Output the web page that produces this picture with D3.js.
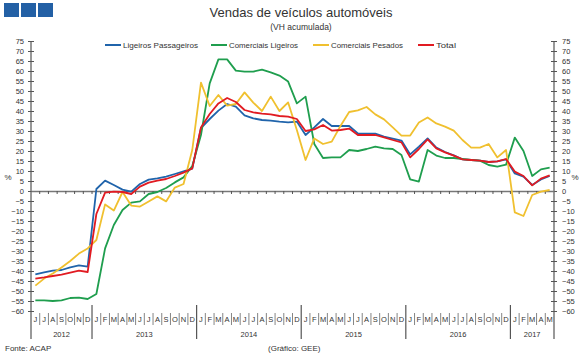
<!DOCTYPE html>
<html><head><meta charset="utf-8">
<script src="https://cdn.jsdelivr.net/npm/d3@7"></script>
<style>body{margin:0;background:#fff}svg{display:block;font-family:"Liberation Sans",Arial,sans-serif}</style>
</head><body><svg id="c" width="584" height="358"></svg>
<script>
const monthLetters = ["J","J","A","S","O","N","D",
 "J","F","M","A","M","J","J","A","S","O","N","D",
 "J","F","M","A","M","J","J","A","S","O","N","D",
 "J","F","M","A","M","J","J","A","S","O","N","D",
 "J","F","M","A","M","J","J","A","S","O","N","D",
 "J","F","M","A","M"];
const years = [{label:"2012",start:0,end:7},{label:"2013",start:7,end:19},{label:"2014",start:19,end:31},{label:"2015",start:31,end:43},{label:"2016",start:43,end:55},{label:"2017",start:55,end:60}];
const yTicks = d3.range(-60, 76, 5);

const ligeirosPassageiros = [-41.7,-40.7,-39.8,-39.5,-38.2,-37.2,-37.8,1.0,5.2,3.0,0.7,-0.3,3.5,5.7,6.3,7.2,8.5,9.8,11.2,
 31.5,36,40.2,43.5,42.2,37.8,36.3,35.5,35.2,34.7,34.3,34.7,28,31.8,36,32.5,32.5,32.5,28.8,28.7,28.7,
 27.2,26.2,25.2,18.3,22.2,26.3,21.7,19.5,17.8,15.8,15.5,15.2,14.5,14.8,15.8,8.8,7.2,3,5.8,7.5];
const comerciaisLigeiros = [-54.7,-54.7,-55,-54.7,-53.5,-53.3,-54,-51.5,-28.7,-17,-9.5,-5.8,-5.2,-1.5,-0.5,1.5,4.3,6.8,12.5,
 28,53.8,65.8,65.8,60.2,59.7,59.7,60.7,59.3,57.7,54.7,43.8,47.2,23.5,16.5,16.8,16.8,20.5,20,21,22.2,
 21.3,21,18,5.8,4.7,20.5,17.7,16.5,16.5,16,15.5,15.2,13,12.2,13.2,26.7,20,7.5,10.8,11.7];
const comerciaisPesados = [-47.3,-43.8,-41.2,-38.2,-35,-31.3,-28.7,-24.5,-6.7,-9.8,-0.5,-7.3,-7.8,-5.2,-2.7,-5.2,1.7,3.5,20.5,
 54.2,42.5,48,42.7,43.5,49.3,44.2,40,47.2,40,44.3,30.5,15.5,26.3,23.5,24.7,32.5,39.5,40.3,42,38.3,
 35.8,31.8,27.7,27.7,34.2,36.8,33.8,32.2,30.2,25.5,21.7,21.7,23.5,16.8,20.5,-10.7,-12.5,-2,-0.3,0.5];
const total = [-43.8,-43.2,-42.5,-41.8,-40.8,-39.8,-40.5,-11.5,-0.8,-0.3,-0.5,-1.5,2.2,4.2,5.2,6.0,7.5,9.2,11.3,
 31.8,38.5,43.8,46.5,44.5,40.5,39.3,38.7,38.3,37.5,37.2,36,30,30.8,33,30.2,30.5,31.2,28,28,28,
 26.8,25.5,24.3,16.8,21,25.8,21.3,19.3,17.7,15.8,15.5,15.2,14.5,14.8,16,9.7,7.5,2.8,6.2,7.8];

const series = [
 {name:"Ligeiros Passageiros", values:ligeirosPassageiros, color:"#2064ab", lx:105, tw:75},
 {name:"Comerciais Ligeiros", values:comerciaisLigeiros, color:"#1f9e4e", lx:211, tw:69},
 {name:"Comerciais Pesados", values:comerciaisPesados, color:"#f0c02f", lx:313, tw:72},
 {name:"Total", values:total, color:"#e11b22", lx:418, tw:20}
];

const svg = d3.select("#c");
const L = 31, R = 554, T = 41, B = 311;
const x = d3.scaleBand().domain(d3.range(monthLetters.length)).range([L, R]).padding(0);
const y = d3.scaleLinear().domain([-60, 75]).range([B, T]);
const axisCol = "#555", txtCol = "#333";

// header squares
[4,21,38].forEach(px => svg.append("rect").attr("x",px).attr("y",3).attr("width",15).attr("height",14).attr("fill","#2360a5"));

svg.append("text").attr("x",301).attr("y",17).attr("text-anchor","middle").attr("font-size",13).attr("fill","#333").text("Vendas de veículos automóveis");
svg.append("text").attr("x",301).attr("y",30).attr("text-anchor","middle").attr("font-size",8.5).attr("fill","#333").text("(VH acumulada)");

// left and right axes
const yl = d3.axisLeft(y).tickValues(yTicks).tickSize(0).tickPadding(7);
const gL = svg.append("g").attr("transform",`translate(${L},0)`).call(yl);
const gR = svg.append("g").attr("transform",`translate(${R},0)`).call(d3.axisRight(y).tickValues(yTicks).tickSize(0).tickPadding(8));
[gL,gR].forEach(g=>{
  g.select(".domain").remove();
  g.selectAll("text").attr("font-size",7.5).attr("fill",txtCol).attr("font-family","Liberation Sans, Arial, sans-serif");
  g.selectAll(".tick").append("line").attr("x1",-3).attr("x2",3).attr("stroke",axisCol).attr("stroke-width",1);
  g.append("line").attr("y1",T).attr("y2",339).attr("stroke",axisCol).attr("stroke-width",1.2);
});
svg.append("text").attr("x",8).attr("y",180).attr("text-anchor","middle").attr("font-size",8).attr("fill",txtCol).text("%");
svg.append("text").attr("x",575).attr("y",180).attr("text-anchor","middle").attr("font-size",8).attr("fill",txtCol).text("%");

// zero line with month ticks
const xAxis = d3.axisBottom(x).tickSize(0).tickFormat("");
const gx = svg.append("g").attr("transform",`translate(0,${y(0)})`).call(xAxis);
gx.select(".domain").attr("stroke","#777").attr("stroke-width",1.5);
gx.selectAll(".tick").remove();
svg.append("g").selectAll("line").data(d3.range(1, monthLetters.length)).join("line")
  .attr("x1",d=>x(d)).attr("x2",d=>x(d)).attr("y1",y(0)).attr("y2",y(0)+3).attr("stroke","#555").attr("stroke-width",1);

// month letters and separators
svg.append("g").selectAll("text").data(monthLetters).join("text")
  .attr("x",(d,i)=>x(i)+x.bandwidth()/2).attr("y",322).attr("text-anchor","middle")
  .attr("font-size",7.5).attr("fill",txtCol).text(d=>d);
const yearStarts = years.map(d=>d.start);
svg.append("g").selectAll("line").data(d3.range(1, monthLetters.length).filter(i=>!yearStarts.includes(i))).join("line")
  .attr("x1",d=>x(d)).attr("x2",d=>x(d)).attr("y1",313).attr("y2",325).attr("stroke","#666").attr("stroke-width",0.8);
svg.append("g").selectAll("line").data(years.slice(1)).join("line")
  .attr("x1",d=>x(d.start)).attr("x2",d=>x(d.start)).attr("y1",305).attr("y2",339).attr("stroke",axisCol).attr("stroke-width",1.2);
svg.append("g").selectAll("text").data(years).join("text")
  .attr("x",d=>(x(d.start)+ (d.end<monthLetters.length?x(d.end):R))/2).attr("y",337).attr("text-anchor","middle")
  .attr("font-size",7.5).attr("fill",txtCol).text(d=>d.label);

// lines
const line = d3.line().x((d,i)=>x(i)+x.bandwidth()/2).y(d=>y(d));
series.forEach(s=>{
  svg.append("path").datum(s.values).attr("d",line).attr("fill","none").attr("stroke",s.color).attr("stroke-width",1.8).attr("stroke-linejoin","round");
});
// legend
series.forEach(s=>{
  svg.append("line").attr("x1",s.lx).attr("x2",s.lx+16).attr("y1",45).attr("y2",45).attr("stroke",s.color).attr("stroke-width",2);
  svg.append("text").attr("x",s.lx+18).attr("y",48).attr("font-size",8).attr("fill",txtCol)
    .attr("textLength",s.tw).attr("lengthAdjust","spacingAndGlyphs").text(s.name);
});

svg.append("text").attr("x",5).attr("y",351).attr("font-size",8).attr("fill",txtCol).text("Fonte: ACAP");
svg.append("text").attr("x",268).attr("y",351).attr("font-size",8).attr("fill",txtCol).text("(Gráfico: GEE)");
</script></body></html>
